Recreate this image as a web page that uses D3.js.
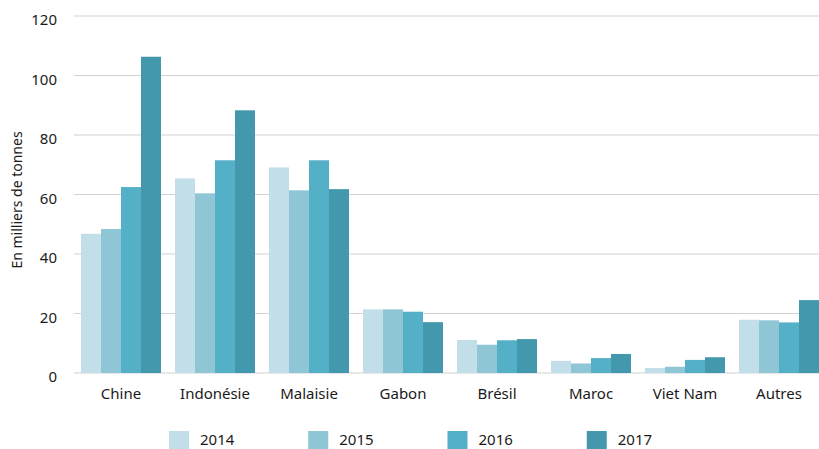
<!DOCTYPE html>
<html>
<head>
<meta charset="utf-8">
<script src="https://cdn.jsdelivr.net/npm/d3@7"></script>
<style>
  body { margin: 0; background: #fff; }
  text { font-family: "Noto Sans", sans-serif; fill: #1a1a1a; }
</style>
</head>
<body>
<div id="chart"></div>
<script>
"use strict";

// data
var countries = ["Chine", "Indonésie", "Malaisie", "Gabon", "Brésil", "Maroc", "Viet Nam", "Autres"];
var years = ["2014", "2015", "2016", "2017"];
var v2014 = [46.8, 65.4, 69.1, 21.4, 11.1, 4.1, 1.7, 17.9];
var v2015 = [48.4, 60.4, 61.4, 21.4, 9.5, 3.2, 2.1, 17.7];
var v2016 = [62.5, 71.5, 71.5, 20.6, 11.0, 5.0, 4.4, 17.0];
var v2017 = [106.3, 88.3, 61.8, 17.1, 11.4, 6.4, 5.3, 24.5];
var yTicks = [0, 20, 40, 60, 80, 100, 120];
var colors = ["#c2dee8", "#8fc6d6", "#53b0c7", "#4498ad"];

var series = [v2014, v2015, v2016, v2017];

var width = 819, height = 449;
var svg = d3.select("#chart")
            .append("svg")
            .attr("width", width)
            .attr("height", height);

// scales
var yScale = d3.scaleLinear()
               .domain([0, 120])
               .range([373, 16]);

var xScale = d3.scaleBand()
               .domain(countries)
               .range([74, 826])
               .paddingInner(14 / 94)
               .paddingOuter(7 / 94);

var yearScale = d3.scaleBand()
                  .domain(years)
                  .range([0, xScale.bandwidth()]);

var colorScale = d3.scaleOrdinal()
                   .domain(years)
                   .range(colors);

// gridlines
svg.append("g")
   .selectAll("line")
   .data(yTicks)
   .enter()
   .append("line")
   .attr("x1", 74)
   .attr("x2", width)
   .attr("y1", function(d) { return yScale(d); })
   .attr("y2", function(d) { return yScale(d); })
   .attr("stroke", "#d2d2d2")
   .attr("stroke-width", 1.2);

// y axis labels
var yAxis = d3.axisLeft(yScale).tickValues(yTicks).tickSize(0).tickPadding(0);
var yg = svg.append("g")
   .attr("transform", "translate(57,4)")
   .call(yAxis);
yg.select(".domain").remove();
yg.selectAll("text")
  .attr("font-size", 15)
  .attr("font-family", "Noto Sans, sans-serif")
  .attr("fill", "#1a1a1a");

svg.append("text")
   .attr("transform", "translate(22,200) rotate(-90)")
   .attr("text-anchor", "middle")
   .attr("font-size", 14)
   .text("En milliers de tonnes");

// bars
var groups = svg.selectAll(".grp")
    .data(countries)
    .enter()
    .append("g")
    .attr("class", "grp")
    .attr("transform", function(d) { return "translate(" + xScale(d) + ",0)"; });

groups.selectAll("rect")
   .data(function(d, i) {
     return years.map(function(y, j) { return { year: y, value: series[j][i] }; });
   })
   .enter()
   .append("rect")
   .attr("x", function(d) { return yearScale(d.year); })
   .attr("y", function(d) { return yScale(d.value); })
   .attr("width", yearScale.bandwidth())
   .attr("height", function(d) { return yScale(0) - yScale(d.value); })
   .attr("fill", function(d) { return colorScale(d.year); });

// x axis labels
var xAxis = d3.axisBottom(xScale).tickSize(0).tickPadding(0);
var xg = svg.append("g")
   .attr("transform", "translate(0,388)")
   .call(xAxis);
xg.select(".domain").remove();
xg.selectAll("text")
  .attr("font-size", 15)
  .attr("font-family", "Noto Sans, sans-serif")
  .attr("fill", "#1a1a1a");

// legend
var legendScale = d3.scaleBand()
                    .domain(years)
                    .range([169, 726]);

var legend = svg.selectAll(".leg")
    .data(years)
    .enter()
    .append("g")
    .attr("class", "leg")
    .attr("transform", function(d) { return "translate(" + legendScale(d) + ",431)"; });

legend.append("rect")
   .attr("width", 20)
   .attr("height", 20)
   .attr("fill", function(d) { return colorScale(d); });

legend.append("text")
   .attr("x", 31)
   .attr("y", 14)
   .attr("font-size", 15)
   .text(function(d) { return d; });
</script>
</body>
</html>
